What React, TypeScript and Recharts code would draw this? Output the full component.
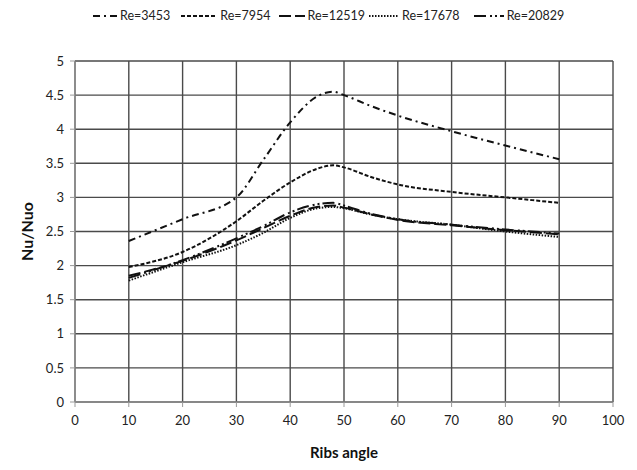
import React from "react";
import { LineChart, Line, XAxis, YAxis, CartesianGrid, Legend } from "recharts";

const angles = [10, 20, 30, 35, 40, 45, 48, 50, 55, 60, 70, 80, 90];
const re3453 = [2.36, 2.68, 3.0, 3.55, 4.1, 4.48, 4.55, 4.5, 4.34, 4.2, 3.97, 3.76, 3.56];
const re7954 = [1.98, 2.2, 2.65, 2.95, 3.22, 3.42, 3.47, 3.44, 3.3, 3.19, 3.08, 3.0, 2.92];
const re12519 = [1.85, 2.07, 2.37, 2.55, 2.73, 2.86, 2.88, 2.85, 2.75, 2.67, 2.59, 2.52, 2.46];
const re17678 = [1.78, 2.05, 2.3, 2.48, 2.7, 2.84, 2.86, 2.84, 2.75, 2.68, 2.6, 2.5, 2.42];
const re20829 = [1.82, 2.08, 2.4, 2.58, 2.78, 2.9, 2.92, 2.88, 2.76, 2.68, 2.6, 2.53, 2.47];

const xTicks = [0, 10, 20, 30, 40, 50, 60, 70, 80, 90, 100];
const yTicks = [0, 0.5, 1, 1.5, 2, 2.5, 3, 3.5, 4, 4.5, 5];

const seriesDefs = [
  { key: "re3453", name: "Re=3453", dash: "7 4 2 4", lw: 24, gap: 11 },
  { key: "re7954", name: "Re=7954", dash: "4 2", lw: 36, gap: 8 },
  { key: "re12519", name: "Re=12519", dash: "12 4", lw: 26, gap: 4 },
  { key: "re17678", name: "Re=17678", dash: "1.5 1.5", lw: 30, gap: 14 },
  { key: "re20829", name: "Re=20829", dash: "12 4 2 3 2 3", lw: 30, gap: 0 },
];

const data = angles.map((a, i) => ({
  angle: a,
  re3453: re3453[i],
  re7954: re7954[i],
  re12519: re12519[i],
  re17678: re17678[i],
  re20829: re20829[i],
}));

const FONT = "Lato, 'Open Sans', sans-serif";

const CustomLegend = () => (
  <div style={{ display: "flex", alignItems: "center", fontFamily: FONT, fontSize: 12.5, color: "#222" }}>
    {seriesDefs.map((s) => (
      <div key={s.key} style={{ display: "flex", alignItems: "center", marginRight: s.gap }}>
        <svg width={s.lw} height={8} style={{ marginRight: 3 }}>
          <line x1={0} y1={4} x2={s.lw} y2={4} stroke="#111" strokeWidth={2} strokeDasharray={s.dash} />
        </svg>
        <span>{s.name}</span>
      </div>
    ))}
  </div>
);

export default function App() {
  return (
    <div style={{ position: "absolute", left: 0, top: 0, width: 637, height: 470, background: "#fff" }}>
      <LineChart width={637} height={470} data={data} margin={{ top: 46, right: 24, bottom: 40, left: 30 }}>
        <CartesianGrid stroke="#4a4a4a" strokeWidth={1.4} />
        <XAxis
          dataKey="angle"
          type="number"
          domain={[0, 100]}
          ticks={xTicks}
          interval={0}
          stroke="#999"
          tickSize={5}
          tickMargin={9}
          height={28}
          tick={{ fill: "#222", fontSize: 13, fontFamily: FONT }}
          label={{ value: "Ribs angle", position: "insideBottom", offset: -28, style: { fontFamily: FONT, fontSize: 15, fontWeight: 700, fill: "#111" } }}
        />
        <YAxis
          type="number"
          domain={[0, 5]}
          ticks={yTicks}
          interval={0}
          stroke="#999"
          tickSize={5}
          tickMargin={6}
          width={45}
          tick={{ fill: "#222", fontSize: 13, fontFamily: FONT }}
          label={{ value: "Nu/Nuo", angle: -90, position: "insideLeft", offset: -3, style: { textAnchor: "middle", fontFamily: FONT, fontSize: 16, fontWeight: 700, fill: "#111" } }}
        />
        <Legend verticalAlign="top" content={<CustomLegend />} wrapperStyle={{ top: 8, left: 93, width: 540 }} />
        {seriesDefs.map((s) => (
          <Line
            key={s.key}
            type="monotone"
            dataKey={s.key}
            name={s.name}
            stroke="#111"
            strokeWidth={2}
            strokeDasharray={s.dash}
            dot={false}
            activeDot={false}
            isAnimationActive={false}
          />
        ))}
      </LineChart>
    </div>
  );
}
